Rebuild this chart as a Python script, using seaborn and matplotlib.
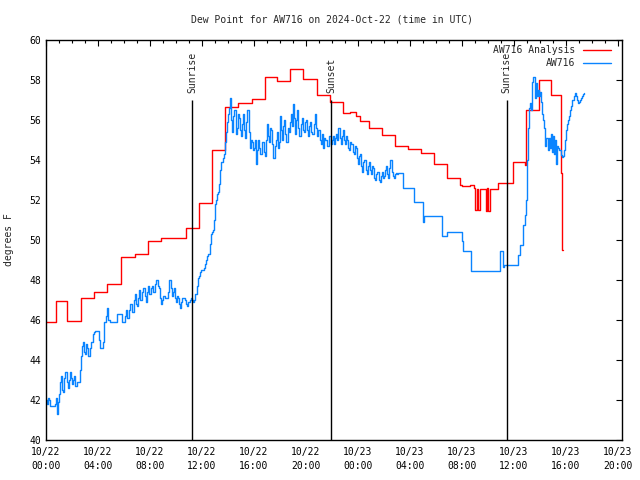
import matplotlib
matplotlib.use("Agg")
import matplotlib.pyplot as plt
import matplotlib.dates as mdates
import pandas as pd
import seaborn as sns

start = pd.Timestamp("2024-10-22 00:00")

# Analysis (step series): hours since start and dew point (F)
analysis_hours = [0.0, 0.75, 1.62, 2.69, 3.69, 4.69, 5.77, 6.85, 7.85, 8.85,
                  10.77, 11.77, 12.77, 13.77, 14.77, 15.85, 16.85, 17.77, 18.77, 19.77,
                  20.85, 21.85, 22.85, 23.38, 23.85, 24.15, 24.85, 25.85, 26.85, 27.85,
                  28.85, 29.85, 30.85, 31.85, 32.0, 32.6, 32.9, 33.04, 33.15, 33.27,
                  33.38, 33.85, 33.96, 34.04, 34.15, 34.77, 35.92, 36.85, 36.92, 37.92,
                  38.85, 39.65, 39.73, 39.8]
analysis_values = [45.9, 46.95, 45.95, 47.1, 47.4, 47.8, 49.15, 49.3, 49.95, 50.1,
                   50.6, 51.85, 54.5, 56.65, 56.85, 57.05, 58.15, 57.95, 58.55, 58.05,
                   57.25, 56.9, 56.35, 56.4, 56.2, 55.95, 55.6, 55.25, 54.7, 54.55,
                   54.35, 53.8, 53.1, 52.75, 52.7, 52.75, 52.6, 51.5, 52.55, 51.5,
                   52.55, 51.45, 52.6, 51.45, 52.55, 52.85, 53.9, 53.75, 56.5, 58.0,
                   57.25, 53.35, 49.5, 49.5]

# Observations every 5 minutes from start (one row per hour)
obs_step_minutes = 5
obs_values = [
    42.0, 41.8, 42.1, 42.0, 41.7, 41.7, 41.7, 41.7, 41.8, 42.1, 41.3, 41.9,
    42.3, 42.9, 43.2, 42.5, 42.4, 43.1, 43.4, 42.9, 42.6, 43.0, 43.4, 43.1,
    42.8, 43.0, 43.2, 42.7, 42.7, 42.9, 42.9, 43.5, 44.2, 44.7, 44.9, 44.4,
    44.3, 44.8, 44.6, 44.2, 44.2, 44.6, 44.9, 45.3, 45.4, 45.45, 45.45, 45.45,
    45.45, 45.0, 44.6, 44.6, 44.6, 44.9, 45.9, 46.2, 46.6, 46.0, 46.0, 45.9,
    45.9, 45.9, 45.9, 45.9, 45.9, 45.9, 46.3, 46.3, 46.3, 46.3, 45.9, 45.9,
    45.9, 46.2, 46.5, 46.1, 46.1, 46.5, 46.8, 46.4, 46.4, 47.0, 47.3, 46.8,
    46.7, 47.1, 47.5, 47.0, 47.0, 47.4, 47.6, 47.2, 46.9, 47.4, 47.7, 47.3,
    47.3, 47.6, 47.7, 47.4, 47.4, 47.8, 48.0, 47.7, 47.6, 47.1, 46.8, 47.0,
    47.2, 47.2, 47.1, 47.1, 47.1, 47.4, 48.0, 47.6, 47.2, 47.4, 47.6, 47.1,
    46.9, 47.2, 47.1, 46.8, 46.6, 46.9, 47.1, 47.1, 47.0, 46.8, 46.7, 46.9,
    46.9, 47.0, 47.1, 47.0, 46.9, 47.0, 47.3, 47.7, 48.1, 48.2, 48.4, 48.5,
    48.5, 48.5, 48.6, 48.8, 49.0, 49.2, 49.3, 49.8, 50.3, 50.4, 50.5, 51.0,
    51.8, 52.0, 52.3, 52.4, 52.8, 53.5, 53.9, 54.1, 54.3, 54.9, 55.4, 55.9,
    56.3, 56.6, 57.1, 56.0, 55.4, 56.2, 56.5, 55.3, 55.6, 56.3, 56.1, 55.5,
    55.2, 55.8, 56.3, 55.5, 55.1, 55.9, 56.5, 55.4, 54.6, 55.0, 54.9, 54.5,
    54.6, 55.0, 53.8, 54.5, 55.0, 54.6, 54.3, 54.9, 54.9, 54.4, 54.2, 55.0,
    55.8, 55.2, 54.9, 55.6, 55.5, 54.8, 54.1, 54.7, 55.0, 55.4, 54.6, 54.9,
    56.2, 55.5, 55.0, 55.7, 56.0, 55.3, 54.9, 55.6, 55.4, 55.9, 56.3, 55.7,
    56.8, 56.1, 55.3, 56.0, 56.5, 55.6, 55.2, 55.8, 56.1, 55.5, 55.4, 55.9,
    56.0, 55.5, 55.2, 55.7, 55.9, 55.4, 55.3, 55.8, 56.3, 55.6, 55.2, 55.5,
    55.5, 55.0, 54.8, 55.3, 54.6, 55.1, 55.0, 54.7, 54.7, 55.2, 55.2, 54.8,
    55.0, 55.2, 54.8, 55.1, 55.3, 55.0, 55.6, 55.1, 54.8, 55.2, 55.5, 55.0,
    54.8, 55.2, 55.0, 54.6, 54.5, 54.9, 54.8, 54.4, 54.3, 54.7, 54.6, 54.1,
    53.8, 54.2, 54.3, 53.7, 53.4, 53.9, 54.0, 53.5, 53.3, 53.7, 53.9, 53.5,
    53.3, 53.7, 53.6, 53.1, 53.0, 53.3, 53.4, 53.0, 52.9, 53.2, 53.4, 53.1,
    53.2, 53.5, 53.7, 53.3, 53.1, 53.6, 54.0, 53.4, 53.2, 53.1, 53.3, 53.35,
    53.3, 53.35, 53.35, 53.35, 53.35, 53.35, 52.6, 52.6, 52.6, 52.6, 52.6, 52.6,
    52.6, 52.6, 52.6, 52.6, 51.9, 51.9, 51.9, 51.9, 51.9, 51.9, 51.9, 51.9,
    50.9, 51.2, 51.2, 51.2, 51.2, 51.2, 51.2, 51.2, 51.2, 51.2, 51.2, 51.2,
    51.2, 51.2, 51.2, 51.2, 51.2, 51.2, 50.2, 50.2, 50.2, 50.2, 50.4, 50.4,
    50.4, 50.4, 50.4, 50.4, 50.4, 50.4, 50.4, 50.4, 50.4, 50.4, 50.4, 50.4,
    49.95, 49.45, 49.45, 49.45, 49.45, 49.45, 49.45, 49.45, 48.45, 48.45, 48.45, 48.45,
    48.45, 48.45, 48.45, 48.45, 48.45, 48.45, 48.45, 48.45, 48.45, 48.45, 48.45, 48.45,
    48.45, 48.45, 48.45, 48.45, 48.45, 48.45, 48.45, 48.45, 48.45, 48.45, 48.45, 49.45,
    49.45, 49.45, 48.65, 48.75, 48.75, 48.75, 48.75, 48.75, 48.75, 48.75, 48.75, 48.75,
    48.75, 48.75, 48.75, 48.75, 49.25, 49.25, 49.75, 49.75, 50.75, 50.75, 51.25, 52.0,
    54.0, 55.6, 56.6, 56.85, 56.5, 57.9, 58.15, 57.1, 57.85, 57.2, 57.5, 57.2,
    57.4, 56.9, 56.3, 56.0, 55.6, 54.7, 55.1, 54.5, 55.1, 54.6, 55.3, 54.4,
    55.2, 54.3, 55.0, 53.8, 54.7, 54.6, 54.5, 54.25, 54.15, 54.2, 54.5, 55.0,
    55.5, 55.8, 56.0, 56.2, 56.5, 56.7, 57.0, 57.2, 57.35, 57.2, 57.0, 56.85,
    56.9, 57.0, 57.1, 57.2, 57.3, 57.35,
]

sun_labels = ["Sunrise", "Sunset", "Sunrise"]
sun_hours = [11.25, 21.93, 35.44]

title = "Dew Point for AW716 on 2024-Oct-22 (time in UTC)"
ylabel = "degrees F"
series_names = ["AW716 Analysis", "AW716"]

df_a = pd.DataFrame({"time": start + pd.to_timedelta(analysis_hours, unit="h"),
                     "value": analysis_values})
df_o = pd.DataFrame({"time": pd.date_range(start, periods=len(obs_values),
                                           freq=f"{obs_step_minutes}min"),
                     "value": obs_values})
sun_times = start + pd.to_timedelta(sun_hours, unit="h")

sns.set_theme(style="white")
plt.rcParams["font.family"] = ["DejaVu Sans Mono"]
plt.rcParams["font.size"] = 7

fig = plt.figure(figsize=(6.4, 4.8), dpi=100)
ax = fig.add_axes([46 / 640, 40 / 480, 576 / 640, 400 / 480])

sns.lineplot(data=df_a, x="time", y="value", ax=ax, color="#ff0000",
             drawstyle="steps-post", linewidth=1.0, label=series_names[0])
sns.lineplot(data=df_o, x="time", y="value", ax=ax, color="#0a84ff",
             drawstyle="steps-post", linewidth=1.0, label=series_names[1])

ax.vlines(sun_times, 40, 57, color="black", linewidth=1.0)
for t, lab in zip(sun_times, sun_labels):
    ax.text(t, 57.35, lab, rotation=90, ha="center", va="bottom", fontsize=7)

ax.set_ylim(40, 60)
ax.set_xlim(start, start + pd.Timedelta(hours=44.31))
ax.set_yticks(range(40, 61, 2))
ax.xaxis.set_major_locator(mdates.HourLocator(byhour=[0, 4, 8, 12, 16, 20]))
ax.xaxis.set_minor_locator(mdates.HourLocator())
ax.xaxis.set_major_formatter(mdates.DateFormatter("%m/%d\n%H:%M"))

ax.tick_params(which="both", direction="in", top=True, right=True,
               colors="black", labelsize=7)
ax.tick_params(which="major", length=4, width=0.8)
ax.tick_params(which="minor", length=2.2, width=0.8)
ax.tick_params(axis="x", which="major", pad=5)
ax.tick_params(axis="y", which="major", pad=3.5)
for s in ax.spines.values():
    s.set_color("black")
    s.set_linewidth(1.0)

ax.set_xlabel("")
ax.set_ylabel(ylabel, fontsize=7)
ax.yaxis.set_label_coords(-0.0556, 0.5)

fig.text(332 / 640, 1 - 19 / 480, title, ha="center", va="center", fontsize=7)

leg = ax.legend(loc="upper right", bbox_to_anchor=(611 / 640, 1 - 45 / 480),
                bbox_transform=fig.transFigure, frameon=False, markerfirst=False,
                handlelength=2.9, handletextpad=0.8, labelspacing=0.3,
                borderpad=0, borderaxespad=0, fontsize=7)

fig.canvas.draw()
for tk in ax.xaxis.get_major_ticks():
    tk.label1.set_linespacing(1.45)

fig.savefig("out.png", dpi=100)
